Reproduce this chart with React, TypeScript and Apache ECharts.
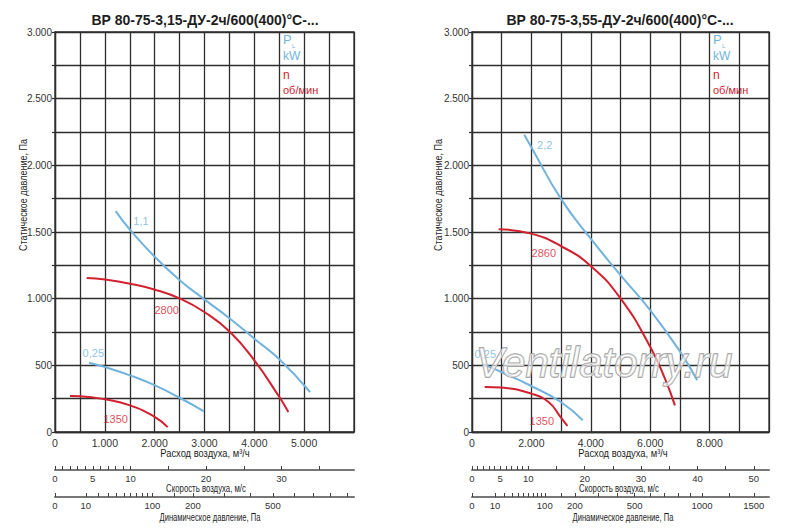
import * as React from "react";
import * as echarts from "echarts";

// airflow m3/h vs static pressure Pa
const powerL11 = [[1218, 1657], [1505, 1517], [2007, 1312], [2509, 1137], [2997, 995], [3512, 850], [4000, 700], [4502, 545], [5118, 300]];
const speedL2800 = [[636, 1155], [1004, 1143], [1505, 1112], [2007, 1067], [2509, 1000], [2997, 900], [3512, 750], [4000, 537], [4502, 262], [4683, 150]];
const powerL025 = [[682, 520], [1004, 487], [1505, 425], [2007, 350], [2509, 255], [2990, 155]];
const speedL1350 = [[301, 270], [502, 268], [1004, 245], [1505, 200], [2007, 112], [2261, 37]];

const powerR22 = [[1758, 2230], [1994, 2138], [2990, 1750], [3998, 1450], [5006, 1175], [6003, 913], [7000, 605], [7582, 388]];
const speedR2860 = [[896, 1520], [1994, 1488], [2990, 1395], [3998, 1245], [5006, 1000], [6003, 638], [6496, 400], [6832, 200]];
const powerR025 = [[336, 513], [986, 450], [1994, 345], [2990, 225], [3730, 88]];
const speedR1350 = [[426, 338], [986, 333], [1994, 288], [2576, 225], [2990, 110], [3214, 45]];

// curve captions: text, anchor [x, y], kind
const captionsL = [["1,1", 1726, 1582, "p"], ["2800", 2241, 917, "n"], ["0,25", 769, 592, "p"], ["1350", 1218, 95, "n"]];
const captionsR = [["2,2", 2450, 2150, "p"], ["2860", 2418, 1345, "n"], ["0,25", 448, 588, "p"], ["1350", 2352, 83, "n"]];

const titles = ["ВР 80-75-3,15-ДУ-2ч/600(400)°С-...", "ВР 80-75-3,55-ДУ-2ч/600(400)°С-..."];

// secondary scales
const velTicksL = [0, 1, 2, 3, 4, 5, 6, 7, 8, 9, 10, 15, 20, 25, 30, 35];
const velLabelsL = [0, 5, 10, 20, 30];
const velTicksR = [0, 1, 2, 3, 4, 5, 6, 7, 8, 9, 10, 15, 20, 25, 30, 35, 40, 45, 50];
const velLabelsR = [0, 5, 10, 20, 30, 40, 50];
const dynTicksL = [0, 10, 20, 30, 40, 50, 60, 70, 80, 90, 100, 150, 200, 300, 400, 500, 600, 700, 800, 900];
const dynLabelsL = [0, 10, 100, 200, 500];
const dynTicksR = [0, 10, 20, 30, 40, 50, 60, 70, 80, 90, 100, 150, 200, 300, 400, 500, 600, 700, 800, 900, 1000, 1250, 1500];
const dynLabelsR = [0, 10, 100, 200, 500, 1000, 1500];

const BLUE = "#72b3de";
const RED = "#d2202f";
const GRID = "#2e2e2e";
const FONT = "'Liberation Sans', Arial, sans-serif";

const toVel = (p: number) => Math.sqrt(p / 0.6);
const fmt = (v: number) =>
  v >= 1000 ? Math.floor(v / 1000) + "." + String(v % 1000).padStart(3, "0") : String(v);

function mainAxes(grid: number, xMax: number, xStep: number, labelStep: number) {
  const x = {
    type: "value", gridIndex: grid, min: 0, max: xMax, interval: xStep,
    axisLine: { show: true, lineStyle: { color: GRID, width: 1.3 } },
    axisTick: { show: false },
    splitLine: { show: true, lineStyle: { color: GRID, width: 1.3 } },
    axisLabel: {
      fontFamily: FONT, fontSize: 10.5, color: "#333", margin: 5,
      formatter: (v: number) => (v % labelStep === 0 && v < xMax ? fmt(v) : ""),
    },
  };
  const y = {
    type: "value", gridIndex: grid, min: 0, max: 3000, interval: 250,
    axisLine: { show: true, lineStyle: { color: GRID, width: 1.3 } },
    axisTick: { show: true, length: 3, lineStyle: { color: GRID, width: 1.2 } },
    splitLine: { show: true, lineStyle: { color: GRID, width: 1.3 } },
    axisLabel: {
      fontFamily: FONT, fontSize: 10, color: "#333", margin: 3,
      formatter: (v: number) => (v % 500 === 0 ? fmt(v) : ""),
    },
  };
  return { x, y };
}

function scaleAxis(grid: number, max: number, ticks: number[], labels: number[], fn?: (v: number) => string) {
  return {
    type: "value", gridIndex: grid, min: 0, max,
    axisLine: { show: true, lineStyle: { color: "#777", width: 2 } },
    axisTick: { show: true, inside: true, length: 4, customValues: ticks, lineStyle: { color: "#444", width: 1 } },
    axisLabel: {
      customValues: labels, fontFamily: FONT, fontSize: 9.5, color: "#333", margin: 3,
      formatter: fn ?? ((v: number) => String(Math.round(v))),
    },
    splitLine: { show: false },
  };
}

function curve(data: number[][], color: string, axis: number) {
  return {
    type: "line", xAxisIndex: axis, yAxisIndex: axis, data, smooth: true, showSymbol: false,
    silent: true, lineStyle: { color, width: 2 },
  };
}

function captions(list: any[], axis: number) {
  return {
    type: "scatter", xAxisIndex: axis, yAxisIndex: axis, symbolSize: 0, silent: true,
    data: list.map(c => ({
      value: [c[1], c[2]],
      label: {
        show: true, position: "inside", formatter: c[0],
        color: c[3] === "p" ? BLUE : RED, fontFamily: FONT, fontSize: 11,
      },
    })),
  };
}

function legend(x: number) {
  return [
    { type: "text", left: x, top: 33, style: { text: "P", fill: BLUE, font: `13px ${FONT}` } },
    { type: "text", left: x + 9, top: 43, style: { text: "L", fill: BLUE, font: `6px ${FONT}` } },
    { type: "text", left: x, top: 50, style: { text: "kW", fill: BLUE, font: `12px ${FONT}` } },
    { type: "text", left: x, top: 69, style: { text: "n", fill: RED, font: `12px ${FONT}` } },
    { type: "text", left: x, top: 84, style: { text: "об/мин", fill: RED, font: `11px ${FONT}` } },
  ];
}

// narrow-looking text: horizontal squeeze of a regular face
function label(text: string, x: number, y: number, size: number, squeeze: number, rotate = false, weight = "") {
  return {
    type: "text", x, y, rotation: rotate ? Math.PI / 2 : 0, scaleX: squeeze,
    style: { text, fill: "#1e1e1e", font: `${weight} ${size}px ${FONT}`, align: "center", verticalAlign: "middle" },
  };
}

export default function App() {
  const ref = React.useRef<HTMLDivElement>(null);
  React.useEffect(() => {
    if (!ref.current) return;
    const chart = echarts.init(ref.current, undefined, { renderer: "svg" });
    const mL = mainAxes(0, 6000, 500, 1000);
    const mR = mainAxes(3, 10000, 1000, 2000);
    const hidden = (g: number) => ({ type: "value", gridIndex: g, min: 0, max: 1, show: false });
    const dynFmt = (v: number) => String(Math.round(0.6 * v * v));
    chart.setOption({
      animation: false,
      grid: [
        { left: 55, top: 32, width: 299, height: 400, show: true, borderColor: GRID, borderWidth: 1.3 },
        { left: 55, top: 450, width: 299, height: 20 },
        { left: 55, top: 477, width: 299, height: 20 },
        { left: 472, top: 32, width: 297, height: 400, show: true, borderColor: GRID, borderWidth: 1.3 },
        { left: 472, top: 450, width: 297, height: 20 },
        { left: 472, top: 477, width: 297, height: 20 },
      ],
      xAxis: [
        mL.x,
        scaleAxis(1, 39.6, velTicksL, velLabelsL),
        scaleAxis(2, 39.6, dynTicksL.map(toVel), dynLabelsL.map(toVel), dynFmt),
        mR.x,
        scaleAxis(4, 52.7, velTicksR, velLabelsR),
        scaleAxis(5, 52.7, dynTicksR.map(toVel), dynLabelsR.map(toVel), dynFmt),
      ],
      yAxis: [mL.y, hidden(1), hidden(2), mR.y, hidden(4), hidden(5)],
      series: [
        curve(powerL11, BLUE, 0),
        curve(speedL2800, RED, 0),
        curve(powerL025, BLUE, 0),
        curve(speedL1350, RED, 0),
        captions(captionsL, 0),
        curve(powerR22, BLUE, 3),
        curve(speedR2860, RED, 3),
        curve(powerR025, BLUE, 3),
        curve(speedR1350, RED, 3),
        captions(captionsR, 3),
      ],
      graphic: [
        label(titles[0], 205, 20, 14, 1, false, "bold"),
        label(titles[1], 620, 20, 14, 1, false, "bold"),
        label("Статическое давление, Па", 23, 195, 11, 0.82, true),
        label("Статическое давление, Па", 438, 195, 11, 0.82, true),
        label("Расход воздуха, м³/ч", 205, 453, 11, 0.85),
        label("Расход воздуха, м³/ч", 623, 453, 11, 0.85),
        label("Скорость воздуха, м/с", 206, 488.5, 10, 0.78),
        label("Скорость воздуха, м/с", 619, 488.5, 10, 0.78),
        label("Динамическое давление, Па", 210, 518, 10, 0.76),
        label("Динамическое давление, Па", 623, 518, 10, 0.76),
        ...legend(283),
        ...legend(713),
        {
          type: "text", x: 604, y: 362, z: 100,
          style: {
            text: "Ventilatorry.ru", font: `italic 42px ${FONT}`,
            fill: "rgba(255,255,255,0.6)", stroke: "#9c9c9c", lineWidth: 1.4,
            align: "center", verticalAlign: "middle",
          },
        },
      ],
    });
    return () => chart.dispose();
  }, []);
  return <div ref={ref} style={{ position: "fixed", left: 0, top: 0, width: 800, height: 528, background: "#fff" }} />;
}
